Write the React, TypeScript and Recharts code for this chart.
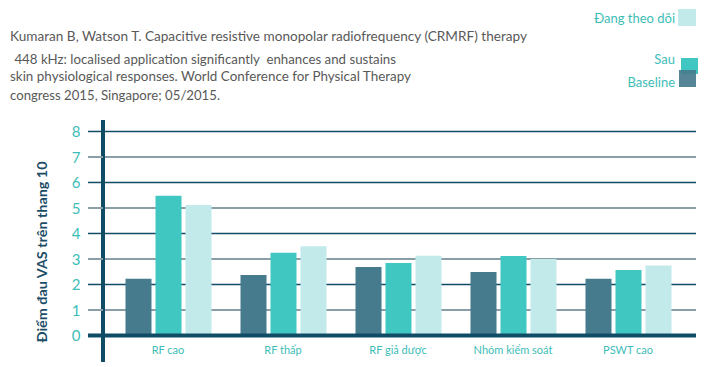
import React from 'react';
import { BarChart, Bar, XAxis, YAxis, CartesianGrid, ReferenceLine } from 'recharts';

const categories = ['RF cao', 'RF thấp', 'RF giả dược', 'Nhóm kiểm soát', 'PSWT cao'];
const baseline = [2.22, 2.37, 2.69, 2.49, 2.22];
const sau = [5.48, 3.24, 2.84, 3.12, 2.57];
const dangTheoDoi = [5.12, 3.5, 3.13, 3.0, 2.74];
const yTicks = [0, 1, 2, 3, 4, 5, 6, 7, 8];
const yDomain = [-1.04, 8.45];

const citation = [
  'Kumaran B, Watson T. Capacitive resistive monopolar radiofrequency (CRMRF) therapy',
  ' 448 kHz: localised application significantly  enhances and sustains',
  'skin physiological responses. World Conference for Physical Therapy',
  'congress 2015, Singapore; 05/2015.',
];
const yLabel = 'Điểm đau VAS trên thang 10';

const DARK = '#114c66';
const GREY = '#8a9ea8';
const TEAL = '#3dbdb7';
const C_BASE = '#467b8e';
const C_SAU = '#41c7c1';
const C_FOLLOW = '#c2eaeb';
const FONT = 'Lato, "Open Sans", sans-serif';

const data = categories.map((name, i) => ({
  name,
  baseline: baseline[i],
  sau: sau[i],
  follow: dangTheoDoi[i],
}));

const YTick = (props: any) => {
  const { x, y, payload } = props;
  const v = payload.value;
  const even = v % 2 === 0;
  return (
    <g>
      <line x1={x - 15} x2={x} y1={y} y2={y} stroke={even ? DARK : GREY} strokeWidth={v === 0 ? 4 : even ? 1.5 : 2} />
      <text x={x - 27} y={y} textAnchor="middle" dominantBaseline="central" fill={TEAL} fontSize={15} fontFamily={FONT}>
        {v}
      </text>
    </g>
  );
};

const XTick = (props: any) => {
  const { x, y, payload } = props;
  return (
    <text x={x} y={y - 13} textAnchor="middle" dominantBaseline="central" fill={TEAL} fontSize={11} fontFamily={FONT}>
      {payload.value}
    </text>
  );
};

// alternate dark / grey lines, keyed on the tick value the line sits at
const gridLine = (props: any) => {
  const { x1, x2, y1, y2, index, y, height } = props;
  const v = yDomain[1] - ((y1 - y) / height) * (yDomain[1] - yDomain[0]);
  const r = Math.round(v);
  if (Math.abs(v - r) > 0.05 || !yTicks.includes(r)) return <g key={'g' + index} />;
  const even = r % 2 === 0;
  return <line key={'g' + index} x1={x1} x2={x2} y1={y1} y2={y2} stroke={even ? DARK : GREY} strokeWidth={even ? 1.5 : 2} />;
};

export default function App() {
  return (
    <div style={{ position: 'absolute', left: 0, top: 0, width: 712, height: 367, background: '#fff' }}>
      <BarChart
        width={712}
        height={367}
        data={data}
        margin={{ top: 120, right: 16, bottom: 4, left: 73 }}
        barSize={26}
        barGap={4}
      >
        <CartesianGrid vertical={false} horizontal={gridLine} />
        <XAxis
          dataKey="name"
          height={1}
          axisLine={false}
          tickLine={false}
          tickSize={0}
          tickMargin={0}
          tick={<XTick />}
          padding={{ left: 7.5, right: 10.5 }}
          interval={0}
        />
        <YAxis
          width={30}
          domain={yDomain}
          ticks={yTicks}
          allowDataOverflow
          tickLine={false}
          tickSize={0}
          tickMargin={0}
          tick={<YTick />}
          axisLine={{ stroke: DARK, strokeWidth: 4 }}
        />
        <Bar dataKey="baseline" fill={C_BASE} isAnimationActive={false} />
        <Bar dataKey="sau" fill={C_SAU} isAnimationActive={false} />
        <Bar dataKey="follow" fill={C_FOLLOW} isAnimationActive={false} />
        <ReferenceLine y={0} stroke={DARK} strokeWidth={4} />
      </BarChart>
      <svg width={712} height={367} style={{ position: 'absolute', left: 0, top: 0, pointerEvents: 'none' }}>
        <g fill="#595959" fontSize={13} fontFamily={FONT}>
          <text x={10} y={41} textLength={517} lengthAdjust="spacingAndGlyphs" xmlSpace="preserve">{citation[0]}</text>
          <text x={11} y={63.5} textLength={385} lengthAdjust="spacingAndGlyphs" xmlSpace="preserve">{citation[1]}</text>
          <text x={10} y={81} textLength={401} lengthAdjust="spacingAndGlyphs">{citation[2]}</text>
          <text x={10} y={99.5} textLength={210} lengthAdjust="spacingAndGlyphs">{citation[3]}</text>
        </g>
        <text
          transform="translate(47 252) rotate(-90)"
          textAnchor="middle"
          fill="#1d4d66"
          fontWeight="bold"
          fontSize={14}
          fontFamily={FONT}
          textLength={181}
          lengthAdjust="spacingAndGlyphs"
        >
          {yLabel}
        </text>
        <g fontSize={13} fontFamily={FONT} fill={TEAL} textAnchor="end">
          <rect x={678} y={9} width={18} height={17} fill={C_FOLLOW} />
          <text x={675} y={22.5}>Đang theo dõi</text>
          <rect x={681} y={58} width={17} height={16} fill={C_SAU} />
          <rect x={679} y={70} width={17} height={17} fill={C_BASE} fillOpacity={0.92} />
          <text x={675} y={64}>Sau</text>
          <text x={675} y={87}>Baseline</text>
        </g>
      </svg>
    </div>
  );
}
